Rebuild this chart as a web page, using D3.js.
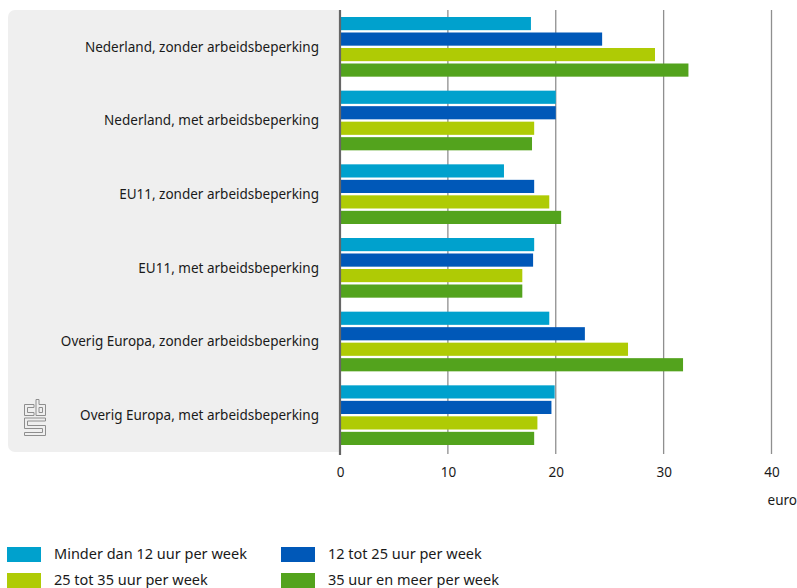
<!DOCTYPE html>
<html>
<head>
<meta charset="utf-8">
<script src="https://cdn.jsdelivr.net/npm/d3@7"></script>
<style>
  html, body { margin: 0; padding: 0; background: #fff; }
  svg { display: block; font-family: "Noto Sans", "Open Sans", sans-serif; }
</style>
</head>
<body>
<svg id="chart" width="797" height="588"></svg>
<script>
// Uurloon (euro) naar herkomst en arbeidsbeperking, per arbeidsduur
const categories = [
  "Nederland, zonder arbeidsbeperking",
  "Nederland, met arbeidsbeperking",
  "EU11, zonder arbeidsbeperking",
  "EU11, met arbeidsbeperking",
  "Overig Europa, zonder arbeidsbeperking",
  "Overig Europa, met arbeidsbeperking"
];
const seriesNames = [
  "Minder dan 12 uur per week",
  "12 tot 25 uur per week",
  "25 tot 35 uur per week",
  "35 uur en meer per week"
];
const minder12 = [17.7, 20.0, 15.2, 18.0, 19.4, 19.9];
const uur12tot25 = [24.3, 20.0, 18.0, 17.9, 22.7, 19.6];
const uur25tot35 = [29.2, 18.0, 19.4, 16.9, 26.7, 18.3];
const uur35meer = [32.3, 17.8, 20.5, 16.9, 31.8, 18.0];
const tickValues = [0, 10, 20, 30, 40];
const unitLabel = "euro";

const seriesValues = [minder12, uur12tot25, uur25tot35, uur35meer];
const colors = ["#00a1cd", "#0058b8", "#afcb05", "#53a31d"];

const svg = d3.select("#chart");
const plotTop = 10, plotBottom = 452, plotLeft = 340;

const x = d3.scaleLinear().domain([0, 40]).range([plotLeft, 771.5]);
const y = d3.scaleBand().domain(categories).range([plotTop, plotBottom])
  .paddingInner(0.19).paddingOuter(0.095);
const ySub = d3.scaleBand().domain(d3.range(seriesNames.length))
  .range([0, y.bandwidth()]).paddingInner(0.15);

// grey label panel
svg.append("rect")
  .attr("x", 8).attr("y", plotTop)
  .attr("width", plotLeft - 8 + 6).attr("height", plotBottom - plotTop)
  .attr("rx", 7).attr("fill", "#efefef");
svg.append("rect")
  .attr("x", plotLeft).attr("y", plotTop - 1)
  .attr("width", 20).attr("height", plotBottom - plotTop + 2)
  .attr("fill", "#fff");

// gridlines
svg.append("g")
  .selectAll("line")
  .data(tickValues.filter(d => d !== 0))
  .join("line")
  .attr("x1", d => x(d)).attr("x2", d => x(d))
  .attr("y1", plotTop).attr("y2", plotBottom + 2)
  .attr("stroke", "#8f8f8f").attr("stroke-width", 1.3);

// bars
const groups = svg.append("g")
  .selectAll("g")
  .data(categories)
  .join("g")
  .attr("transform", d => `translate(0,${y(d)})`);

groups.selectAll("rect")
  .data((c, i) => seriesValues.map((vals, s) => ({ s, v: vals[i] })))
  .join("rect")
  .attr("x", x(0))
  .attr("y", d => ySub(d.s))
  .attr("width", d => x(d.v) - x(0))
  .attr("height", ySub.bandwidth())
  .attr("fill", d => colors[d.s]);

// zero axis line
svg.append("line")
  .attr("x1", x(0)).attr("x2", x(0))
  .attr("y1", plotTop).attr("y2", plotBottom + 3)
  .attr("stroke", "#666").attr("stroke-width", 2.2);

// category labels
svg.append("g")
  .selectAll("text")
  .data(categories)
  .join("text")
  .attr("x", 319)
  .attr("y", d => y(d) + y.bandwidth() / 2)
  .attr("dy", "0.35em")
  .attr("text-anchor", "end")
  .attr("font-size", 13.5)
  .attr("fill", "#1a1a1a")
  .text(d => d);

// x axis tick labels
const xAxis = d3.axisBottom(x).tickValues(tickValues).tickSize(0).tickPadding(0);
const axisG = svg.append("g")
  .attr("transform", `translate(0,${plotBottom})`)
  .call(xAxis);
axisG.select(".domain").remove();
axisG.selectAll("text")
  .attr("y", 15)
  .attr("font-size", 13.5)
  .attr("font-family", "Noto Sans, sans-serif")
  .attr("fill", "#1a1a1a");

svg.append("text")
  .attr("x", 797).attr("y", 505)
  .attr("text-anchor", "end")
  .attr("font-size", 13.5)
  .attr("fill", "#1a1a1a")
  .text(unitLabel);

// legend
const legendPos = [[7, 547], [281, 547], [7, 573], [281, 573]];
const legend = svg.append("g")
  .selectAll("g")
  .data(seriesNames)
  .join("g")
  .attr("transform", (d, i) => `translate(${legendPos[i][0]},${legendPos[i][1]})`);
legend.append("rect")
  .attr("width", 34).attr("height", 15)
  .attr("fill", (d, i) => colors[i]);
legend.append("text")
  .attr("x", 47).attr("y", 7).attr("dy", "0.35em")
  .attr("font-size", 14.5)
  .attr("fill", "#1a1a1a")
  .text(d => d);

// cbs logo mark
const logo = svg.append("g")
  .attr("transform", "translate(24,399)")
  .attr("fill", "none")
  .attr("stroke", "#8e8e8e")
  .attr("stroke-width", 1)
  .attr("stroke-linejoin", "miter");
logo.append("path").attr("d", "M0.5,5.5 H10 V8.5 H3.5 V13.5 H10 V16.5 H0.5 Z");
logo.append("path").attr("d", "M12,0.5 H15 V5.5 H21.5 V16.5 H12 Z M15,8.5 H18.5 V13.5 H15 Z");
logo.append("path").attr("d", "M0.5,19 H21.5 V22 H3.5 V26.5 H21.5 V36.5 H0.5 V33.5 H18.5 V29.5 H0.5 Z");
</script>
</body>
</html>
